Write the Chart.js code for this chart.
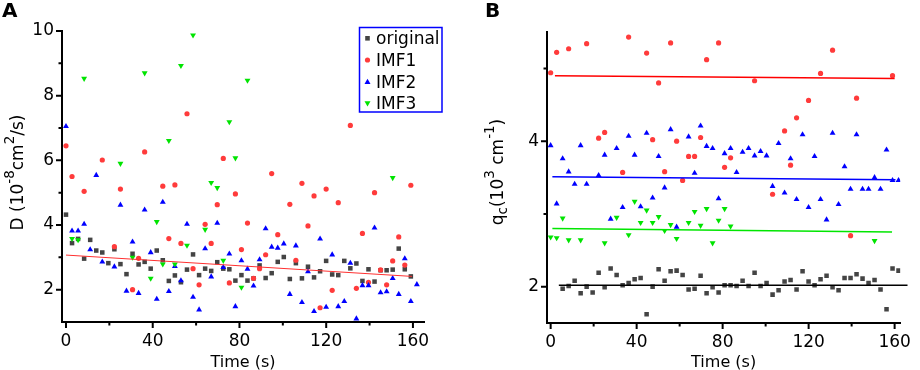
<!DOCTYPE html>
<html>
<head>
<meta charset="utf-8">
<script src="https://cdn.jsdelivr.net/npm/chart.js@4.4.1/dist/chart.umd.min.js"></script>
<style>
    html, body { margin: 0; padding: 0; background: #fff; }
    body { width: 920px; height: 370px; position: relative; overflow: hidden; font-family: "DejaVu Sans", sans-serif; }
    .panel { position: absolute; top: 0; height: 370px; }
    #wrapA { left: 0; width: 450px; }
    #wrapB { left: 460px; width: 460px; }
    .tag { position: absolute; top: 0; font: bold 20px "DejaVu Sans"; line-height: 20px; }
</style>
</head>
<body>
<div class="panel" id="wrapA"><canvas id="chartA"></canvas></div>
<div class="panel" id="wrapB"><canvas id="chartB"></canvas></div>
<div class="tag" style="left:2px">A</div>
<div class="tag" style="left:485px">B</div>
<script>
// sample times (s), shared by every series
const time = [0, 2.79, 5.58, 8.37, 11.16, 13.95, 16.74, 19.53, 22.32, 25.11,
    27.9, 30.69, 33.48, 36.27, 39.06, 41.85, 44.64, 47.43, 50.22, 53.01,
    55.8, 58.59, 61.38, 64.17, 66.96, 69.75, 72.54, 75.33, 78.12, 80.91,
    83.7, 86.49, 89.28, 92.07, 94.86, 97.65, 100.44, 103.23, 106.02, 108.81,
    111.6, 114.39, 117.18, 119.97, 122.76, 125.55, 128.34, 131.13, 133.92, 136.71,
    139.5, 142.29, 145.08, 147.87, 150.66, 153.45, 156.24, 159.03, 161.82];

// panel A: D (10^-8 cm^2/s)
const originalA = [4.32, 3.44, 3.57, 2.96, 3.54, 3.21, 3.15, 2.82, 3.25, 2.79,
    2.48, 3.11, 2.78, 2.86, 2.65, 3.21, 2.91, 2.27, 2.44, 2.23,
    2.62, 3.09, 2.45, 2.65, 2.58, 2.85, 2.65, 2.63, 2.28, 2.45,
    2.28, 2.35, 2.75, 2.36, 2.51, 2.86, 3.01, 2.33, 2.82, 2.35,
    2.71, 2.38, 2.57, 2.89, 2.47, 2.45, 2.89, 2.66, 2.81, 2.27,
    2.63, 2.25, 2.60, 2.60, 2.62, 3.27, 2.63, 2.41, null];
const imf1A = [6.45, 5.50, null, 5.04, null, null, 6.01, null, 3.33, 5.11,
    null, 2.00, 2.97, 6.26, null, null, 5.20, 3.58, 5.24, 3.43,
    7.44, 2.65, 2.15, 4.02, 3.43, 4.63, 6.06, 2.21, 4.96, 3.24,
    4.06, 2.35, 2.65, 3.08, 5.59, 3.70, null, 4.64, 2.91, 5.29,
    3.97, 4.90, 1.44, 5.11, 1.98, 4.69, null, 7.08, 2.04, 3.74,
    2.23, 5.00, 2.61, 2.15, 2.89, 3.63, 2.76, 5.23, null];
const imf2A = [7.05, 3.82, 3.82, 4.03, 3.24, 5.54, 2.86, null, 2.71, 4.62,
    1.96, 3.48, 1.89, 4.47, 3.15, 1.71, 4.71, 1.95, 2.72, 2.28,
    4.03, 1.77, 1.38, 3.27, 2.40, 4.06, 2.69, 3.11, 1.48, 2.90,
    2.64, 2.12, 2.93, 3.89, 3.32, 3.29, 3.42, 1.86, 3.36, 1.61,
    2.56, 1.33, 3.57, 1.46, 3.08, 1.48, 1.64, 2.82, 1.10, 2.13,
    2.13, 3.91, 1.91, 1.94, 2.35, 1.86, 2.96, 1.64, 2.16];
const imf3A = [null, 3.58, 3.54, 8.53, null, null, null, null, null, 5.90,
    null, 3.00, null, 8.70, 2.35, 4.10, 2.79, 6.61, 2.79, 8.93,
    3.37, 9.87, null, 3.86, 5.31, 5.15, 2.90, 7.19, 6.07, 2.07,
    8.47, null, null, null, null, null, null, null, null, null,
    null, null, null, null, null, null, null, null, null, null,
    null, null, null, null, 5.46, null, null, null, null];
const fitTimeA = [0, 159.6];
const fitA = [3.07, 2.41];

// panel B: q_c (10^3 cm^-1)
const originalB = [null, null, 1.97, 2.01, 2.08, 1.91, 2.00, 1.92, 2.19, 1.99,
    2.25, 2.16, 2.02, 2.05, 2.10, 2.12, 1.62, 2.00, 2.24, 2.08,
    2.21, 2.22, 2.16, 1.96, 1.97, 2.15, 1.91, 1.99, 1.92, 2.02,
    2.02, 2.01, 2.08, 2.01, 2.19, 2.01, 2.05, 1.89, 1.95, 2.07,
    2.09, 1.96, 2.21, 2.07, 2.02, 2.10, 2.15, 1.99, 1.95, 2.12,
    2.12, 2.17, 2.11, 2.05, 2.09, 1.96, 1.69, 2.25, 2.22];
const imf1B = [4.94, 5.22, null, 5.27, null, null, 5.34, null, 4.04, 4.12,
    null, null, 3.57, 5.43, null, null, 5.21, 4.02, 4.80, 3.58,
    5.35, 4.00, 3.46, 3.79, 3.79, 4.05, 5.12, null, 5.35, 3.64,
    3.77, null, null, null, 4.83, null, null, 3.27, null, 4.14,
    3.67, 4.32, null, 4.56, null, 4.93, null, 5.25, null, null,
    2.70, 4.59, null, null, null, null, null, 4.90, null];
const imf2B = [3.94, 3.14, 3.76, 3.58, 3.41, 3.94, 3.41, null, 3.53, 3.81,
    2.93, 3.90, 3.09, 4.07, 3.81, 3.10, 4.11, 3.22, 3.79, 3.36,
    4.16, 2.82, null, 4.06, 3.56, 4.21, 3.93, 3.90, 3.21, 3.83,
    3.90, 3.57, 3.85, 3.90, 3.80, 3.86, 3.80, 3.38, 3.97, 3.29,
    3.76, 3.20, 4.09, 3.09, 3.79, 3.20, 2.92, 4.11, 3.13, 3.65,
    3.34, 4.09, 3.34, 3.34, 3.50, 3.34, 3.88, 3.46, 3.46];
const imf3B = [2.68, 2.67, 2.94, 2.64, null, 2.64, null, null, null, 2.60,
    null, 2.95, null, 2.71, 3.17, 2.88, 3.05, 2.88, 2.96, 2.77,
    2.85, 2.66, null, 2.88, 3.03, 2.84, 3.07, 2.60, 2.91, 3.07,
    2.83, null, null, null, null, null, null, null, null, null,
    null, null, null, null, null, null, null, null, null, null,
    null, null, null, null, 2.63, null, null, null, null];
const fitOrigTimeB = [3.8, 166];
const fitOrigB = [2.02, 2.02];
const fitImf1TimeB = [2.0, 160];
const fitImf1B = [4.90, 4.86];
const fitImf2TimeB = [0.8, 160.4];
const fitImf2B = [3.51, 3.47];
const fitImf3TimeB = [0.8, 158.8];
const fitImf3B = [2.80, 2.75];

// ticks
const xMajor = [0, 40, 80, 120, 160];
const xMinor = [20, 60, 100, 140];
const yMajorA = [2, 4, 6, 8, 10];
const yMinorA = [3, 5, 7, 9];
const yMajorB = [2, 4];
const yMinorB = [3, 5];

const seriesNames = ['original', 'IMF1', 'IMF2', 'IMF3'];
const COLORS = ['#444444', '#ff3b3b', '#0000ff', '#00e400'];
const FONT = '"DejaVu Sans", sans-serif';

function points(values)
{
    return time.map((t, i) => ({ x: t, y: values[i] })).filter(p => p.y !== null);
}

function linePoints(ts, vs)
{
    return ts.map((t, i) => ({ x: t, y: vs[i] }));
}

function markerSet(label, values, k)
{
    const style = [
        { pointStyle: 'rect', r: 3.2, rot: 0 },
        { pointStyle: 'circle', r: 2.6, rot: 0 },
        { pointStyle: 'triangle', r: 3.4, rot: 0 },
        { pointStyle: 'triangle', r: 3.4, rot: 180 },
    ][k];
    return {
        label: label,
        data: points(values),
        pointStyle: style.pointStyle,
        pointRadius: style.r,
        pointRotation: style.rot,
        backgroundColor: COLORS[k],
        borderColor: COLORS[k],
        borderWidth: 0,
        pointBorderWidth: 0,
        order: 4 - k,
    };
}

function fitSet(ts, vs, color, width, clip)
{
    return {
        label: 'fit',
        data: linePoints(ts, vs),
        showLine: true,
        pointRadius: 0,
        borderColor: color,
        borderWidth: width,
        clip: clip ? undefined : false,
        order: 0,
    };
}

function drawMarker(ctx, k, x, y)
{
    ctx.fillStyle = COLORS[k];
    ctx.beginPath();
    if (k === 0) {
        ctx.rect(x - 2.3, y - 2.3, 4.6, 4.6);
    } else if (k === 1) {
        ctx.arc(x, y, 2.6, 0, Math.PI * 2);
    } else if (k === 2) {
        ctx.moveTo(x, y - 3); ctx.lineTo(x + 3, y + 2.2); ctx.lineTo(x - 3, y + 2.2);
    } else {
        ctx.moveTo(x, y + 3); ctx.lineTo(x + 3, y - 2.2); ctx.lineTo(x - 3, y - 2.2);
    }
    ctx.closePath();
    ctx.fill();
}

function drawRotated(ctx, parts, bx, cy)
{
    ctx.save();
    ctx.translate(bx, cy);
    ctx.rotate(-Math.PI / 2);
    ctx.textAlign = 'left';
    ctx.textBaseline = 'alphabetic';
    let total = 0;
    parts.forEach(p => {
        ctx.font = p.size + 'px ' + FONT;
        total += ctx.measureText(p.t).width;
    });
    let x = -total / 2;
    parts.forEach(p => {
        ctx.font = p.size + 'px ' + FONT;
        ctx.fillText(p.t, x, p.dy);
        x += ctx.measureText(p.t).width;
    });
    ctx.restore();
}

// axis ticks, axis titles and the boxed legend
const decor = {
    id: 'decor',
    afterDraw(chart, args, o) {
        const ctx = chart.ctx;
        const a = chart.chartArea;
        const xs = chart.scales.x;
        const ys = chart.scales.y;
        ctx.save();
        ctx.strokeStyle = '#000';
        ctx.lineWidth = 2;
        ctx.beginPath();
        xMajor.forEach(v => { const p = xs.getPixelForValue(v); ctx.moveTo(p, a.bottom); ctx.lineTo(p, a.bottom + 6); });
        o.yMajor.forEach(v => { const p = ys.getPixelForValue(v); ctx.moveTo(a.left, p); ctx.lineTo(a.left - 6, p); });
        ctx.stroke();
        ctx.beginPath();
        xMinor.forEach(v => { const p = xs.getPixelForValue(v); ctx.moveTo(p, a.bottom); ctx.lineTo(p, a.bottom + 3.5); });
        o.yMinor.forEach(v => { const p = ys.getPixelForValue(v); ctx.moveTo(a.left, p); ctx.lineTo(a.left - 3.5, p); });
        ctx.stroke();

        ctx.fillStyle = '#000';
        ctx.font = '16px ' + FONT;
        ctx.textAlign = 'center';
        ctx.textBaseline = 'alphabetic';
        ctx.fillText('Time (s)', (a.left + a.right) / 2, 366.5);
        drawRotated(ctx, o.yTitle, o.yTitleX, o.yTitleY);

        if (o.legend) {
            const L = o.legend;
            ctx.strokeStyle = '#0000ff';
            ctx.lineWidth = 1.5;
            ctx.strokeRect(L.x, L.y, L.w, L.h);
            ctx.font = '17px ' + FONT;
            ctx.textAlign = 'left';
            seriesNames.forEach((name, k) => {
                const base = L.y + 16.6 + k * 21.7;
                drawMarker(ctx, k, L.x + 8, base - 5.8);
                ctx.fillStyle = '#000';
                ctx.fillText(name, L.x + 16.5, base);
            });
        }
        ctx.restore();
    }
};

function makeChart(canvasId, datasets, cfg)
{
    const tickFont = { family: FONT, size: 17 };
    const config = {
        type: 'scatter',
        data: { datasets: datasets },
        options: {
            responsive: true,
            maintainAspectRatio: false,
            animation: false,
            layout: { padding: { left: 0, top: cfg.top, right: cfg.right, bottom: 0 } },
            plugins: {
                legend: { display: false },
                tooltip: { enabled: false },
                decor: cfg.decor,
            },
            scales: {
                x: {
                    type: 'linear',
                    min: cfg.xMin,
                    max: cfg.xMax,
                    afterFit: s => { s.height = cfg.xHeight; },
                    afterBuildTicks: s => { s.ticks = xMajor.map(v => ({ value: v })); },
                    grid: { display: false, drawTicks: false },
                    border: { display: true, color: '#000', width: 2 },
                    ticks: { color: '#000', font: tickFont, padding: 9, maxRotation: 0, autoSkip: false },
                },
                y: {
                    type: 'linear',
                    min: cfg.yMin,
                    max: cfg.yMax,
                    afterFit: s => { s.width = cfg.yWidth; },
                    afterBuildTicks: s => { s.ticks = cfg.yMajor.map(v => ({ value: v })); },
                    grid: { display: false, drawTicks: false },
                    border: { display: true, color: '#000', width: 2 },
                    ticks: { color: '#000', font: tickFont, padding: 8, autoSkip: false },
                },
            },
        },
        plugins: [decor],
    };
    const ctx = document.getElementById(canvasId).getContext('2d');
    if (ctx) {
        new Chart(ctx, config);
    }
}

makeChart('chartA', [
    fitSet(fitTimeA, fitA, '#ff3030', 1, true),
    markerSet('original', originalA, 0),
    markerSet('IMF1', imf1A, 1),
    markerSet('IMF2', imf2A, 2),
    markerSet('IMF3', imf3A, 3),
], {
    xMin: -1.84, xMax: 165.1, yMin: 1, yMax: 10,
    top: 31, right: 26, xHeight: 48, yWidth: 62, yMajor: yMajorA,
    decor: {
        yMajor: yMajorA, yMinor: yMinorA,
        yTitleX: 23.3, yTitleY: 172.5,
        yTitle: [
            { t: 'D (10', size: 17, dy: 0 },
            { t: '-8', size: 13.5, dy: -9.5 },
            { t: 'cm', size: 17, dy: 0 },
            { t: '2', size: 13.5, dy: -9.5 },
            { t: '/s)', size: 17, dy: 0 },
        ],
        legend: { x: 359.5, y: 27.5, w: 82.5, h: 84.5 },
    },
});

makeChart('chartB', [
    fitSet(fitOrigTimeB, fitOrigB, '#000000', 1.5, false),
    fitSet(fitImf1TimeB, fitImf1B, '#ff0000', 1.5, true),
    fitSet(fitImf2TimeB, fitImf2B, '#0000ff', 1.5, true),
    fitSet(fitImf3TimeB, fitImf3B, '#00e600', 1.5, true),
    markerSet('original', originalB, 0),
    markerSet('IMF1', imf1B, 1),
    markerSet('IMF2', imf2B, 2),
    markerSet('IMF3', imf3B, 3),
], {
    xMin: -1.7, xMax: 162.6, yMin: 1.5, yMax: 5.5,
    top: 32, right: 10, xHeight: 47, yWidth: 87, yMajor: yMajorB,
    decor: {
        yMajor: yMajorB, yMinor: yMinorB,
        yTitleX: 43, yTitleY: 172,
        yTitle: [
            { t: 'q', size: 17, dy: 0 },
            { t: 'c', size: 13.5, dy: 4 },
            { t: '(10', size: 17, dy: 0 },
            { t: '3', size: 13.5, dy: -9.5 },
            { t: ' cm', size: 17, dy: 0 },
            { t: '-1', size: 13.5, dy: -9.5 },
            { t: ')', size: 17, dy: 0 },
        ],
    },
});
</script>
</body>
</html>
